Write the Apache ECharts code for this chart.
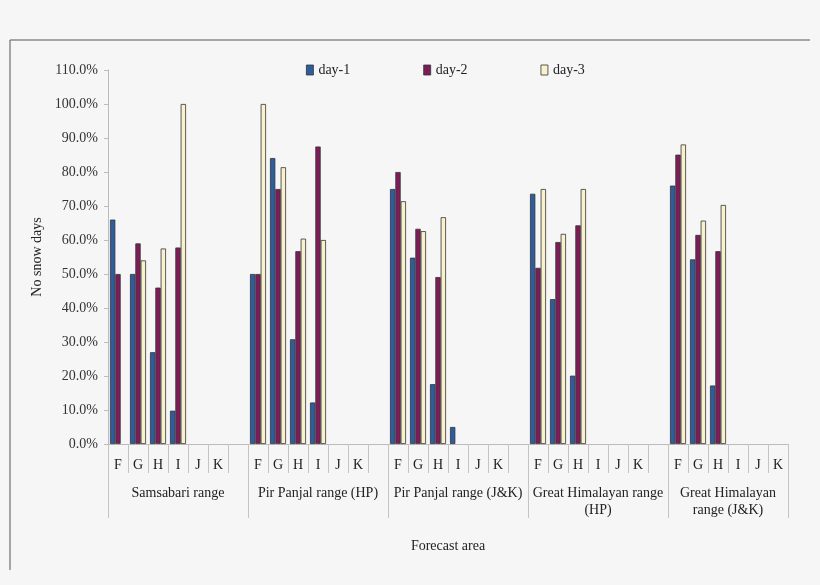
<!DOCTYPE html>
<html>
<head>
<meta charset="utf-8">
<script src="https://cdn.jsdelivr.net/npm/echarts@6.0.0/dist/echarts.min.js"></script>
<style>
  html, body { margin: 0; padding: 0; background: #f6f6f6; }
  #chart { width: 820px; height: 585px; }
</style>
</head>
<body>
<div id="chart"></div>
<script>
// forecast areas and the sub-areas inside each one
const ranges = ['Samsabari range', 'Pir Panjal range (HP)', 'Pir Panjal range (J&K)',
  'Great Himalayan range\n(HP)', 'Great Himalayan\nrange (J&K)'];
const letters = ['F', 'G', 'H', 'I', 'J', 'K'];

// values in %, one row per range (F..K); null = no bar
const day1 = [
  [66, 50, 27, 9.8, null, null],
  [50, 84.1, 30.8, 12.2, null, null],
  [75, 54.8, 17.6, 5, null, null],
  [73.6, 42.6, 20.1, null, null, null],
  [76, 54.3, 17.2, null, null, null]
];
const day2 = [
  [50, 59, 46, 57.8, null, null],
  [50, 75, 56.7, 87.5, null, null],
  [80, 63.3, 49.1, null, null, null],
  [51.8, 59.4, 64.3, null, null, null],
  [85.1, 61.5, 56.7, null, null, null]
];
const day3 = [
  [null, 54, 57.5, 100, null, null],
  [100, 81.4, 60.4, 60, null, null],
  [71.4, 62.6, 66.7, null, null, null],
  [75, 61.8, 75, null, null, null],
  [88.1, 65.7, 70.3, null, null, null]
];
const yTicks = [0, 110, 10];

// flatten: each range gets its letters plus one blank spacer slot (not after the last)
function flat(rows) {
  const out = [];
  rows.forEach((r, i) => {
    out.push(...r);
    if (i < rows.length - 1) out.push(null);
  });
  return out;
}
const cats = [];
ranges.forEach((r, i) => {
  cats.push(...letters);
  if (i < ranges.length - 1) cats.push('');
});

// second axis: half-slot positions, boundaryGap off, so group edges and centres land on indexes
const halfCount = cats.length * 2 + 1;
const groupEdges = new Set();
const groupCentres = {};
let pos = 0;
ranges.forEach((r, i) => {
  const w = (letters.length + (i < ranges.length - 1 ? 1 : 0)) * 2;
  groupEdges.add(pos);
  groupCentres[pos + w / 2] = r;
  pos += w;
});
groupEdges.add(pos);
const groupAxis = [];
for (let k = 0; k < halfCount; k++) groupAxis.push(groupCentres[k] || '');

const font = '"Liberation Serif", "DejaVu Serif", serif';
const colors = ['#2e5d9e', '#7d1d58', '#f8f1cc'];

const chart = echarts.init(document.getElementById('chart'));
chart.setOption({
  backgroundColor: '#f6f6f6',
  textStyle: { fontFamily: font },
  color: colors,
  graphic: [
    { type: 'line', shape: { x1: 10, y1: 40, x2: 810, y2: 40 }, style: { stroke: '#555', lineWidth: 1 } },
    { type: 'line', shape: { x1: 10, y1: 40, x2: 10, y2: 570 }, style: { stroke: '#555', lineWidth: 1 } }
  ],
  legend: {
    top: 58, left: 301, icon: 'rect',
    itemWidth: 7, itemHeight: 10, itemGap: 73,
    itemStyle: { borderColor: '#333', borderWidth: 0.8 },
    textStyle: { fontFamily: font, fontSize: 14, color: '#222' },
    data: ['day-1', 'day-2', 'day-3']
  },
  grid: { left: 108, right: 32, top: 70, bottom: 141, containLabel: false },
  xAxis: [
    {
      type: 'category', data: cats, position: 'bottom',
      name: 'Forecast area', nameLocation: 'middle', nameGap: 95,
      nameTextStyle: { fontFamily: font, fontSize: 14, color: '#222' },
      axisLine: { show: true, lineStyle: { color: '#bbb' } },
      axisTick: { show: true, interval: 0, alignWithLabel: false, length: 29, lineStyle: { color: '#c4c4c4' } },
      axisLabel: { interval: 0, margin: 14, fontFamily: font, fontSize: 14, color: '#222' }
    },
    {
      type: 'category', data: groupAxis, position: 'bottom', boundaryGap: false,
      axisLine: { show: false },
      axisTick: { show: true, interval: (i) => groupEdges.has(i), length: 74, lineStyle: { color: '#c4c4c4' } },
      axisLabel: {
        interval: (i) => groupAxis[i] !== '', margin: 41,
        fontFamily: font, fontSize: 14, lineHeight: 17, color: '#222'
      }
    }
  ],
  yAxis: {
    type: 'value', min: yTicks[0], max: yTicks[1], interval: yTicks[2],
    name: 'No snow days', nameLocation: 'middle', nameGap: 59, nameRotate: 90,
    nameTextStyle: { fontFamily: font, fontSize: 14, color: '#222' },
    axisLine: { show: true, lineStyle: { color: '#bbb' } },
    axisTick: { show: true, length: 4, lineStyle: { color: '#bbb' } },
    splitLine: { show: false },
    axisLabel: { margin: 10, fontFamily: font, fontSize: 14, color: '#333',
      formatter: (v) => v.toFixed(1) + '%' }
  },
  series: [
    { name: 'day-1', data: flat(day1) },
    { name: 'day-2', data: flat(day2) },
    { name: 'day-3', data: flat(day3) }
  ].map(s => ({
    ...s, type: 'bar', xAxisIndex: 0, barGap: '0%', barCategoryGap: '20%',
    itemStyle: { borderColor: '#333', borderWidth: 0.8 }
  }))
});
</script>
</body>
</html>
